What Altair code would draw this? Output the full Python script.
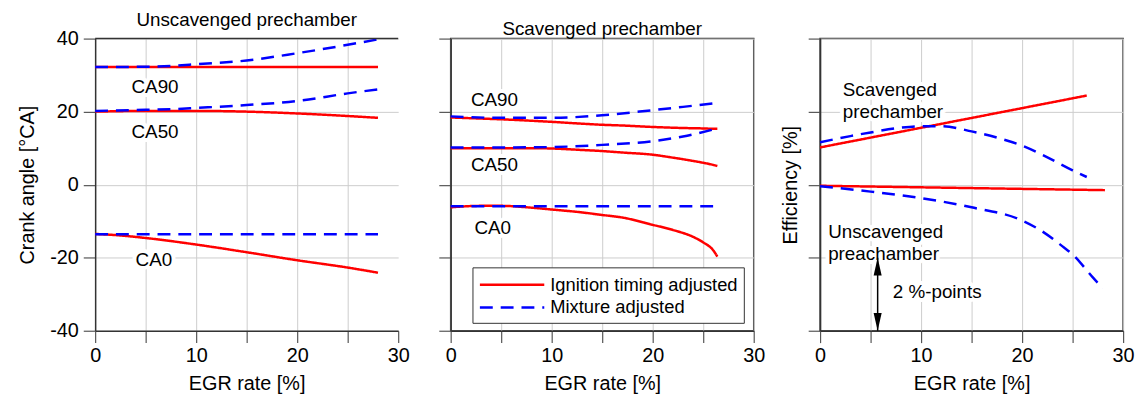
import altair as alt
import pandas as pd

FONT = "Liberation Sans"
IGN = "Ignition timing adjusted"
MIX = "Mixture adjusted"
METHODS = [IGN, MIX]
COLORS = ["#ff0000", "#0000ff"]
DASHES = [[1, 0], [13, 8]]

X_TICKS = [0, 5, 10, 15, 20, 25, 30]
CA_TICKS = [-40, -30, -20, -10, 0, 10, 20, 30, 40]
EFF_TICKS = [-4, -3, -2, -1, 0, 1, 2, 3, 4]
X_DOMAIN = [0, 30]
CA_DOMAIN = [-40, 40]
EFF_DOMAIN = [-4, 4]

# ---- Panel 1: Unscavenged prechamber (crank angle, deg CA)
U_X_IGN = [0, 2, 5, 10, 15, 20, 25, 28]
U_CA90_IGN = [32.2, 32.2, 32.2, 32.2, 32.2, 32.2, 32.2, 32.2]
U_CA50_IGN = [20.0, 20.1, 20.2, 20.2, 20.0, 19.5, 18.8, 18.3]
U_CA0_IGN = [-13.5, -13.8, -14.6, -16.4, -18.5, -20.7, -22.7, -24.1]
U_X_MIX = [0, 5, 8, 10, 15, 20, 25, 28]
U_CA90_MIX = [32.2, 32.3, 32.6, 33.0, 34.0, 36.0, 38.3, 39.8]
U_CA50_MIX = [20.2, 20.5, 20.7, 21.0, 21.8, 22.9, 25.0, 26.1]
U_CA0_MIX = [-13.6, -13.6, -13.6, -13.6, -13.6, -13.6, -13.6, -13.6]

# ---- Panel 2: Scavenged prechamber (crank angle, deg CA)
S_X_IGN = [0, 3, 5, 8, 10, 13, 15, 17, 20, 22, 24, 25, 26, 26.4]
S_CA90_IGN = [18.4, 18.1, 17.9, 17.5, 17.2, 16.7, 16.4, 16.2, 15.8, 15.6, 15.45, 15.4, 15.3, 15.3]
S_CA50_IGN = [10.0, 10.0, 10.0, 10.0, 9.9, 9.5, 9.2, 8.8, 8.2, 7.4, 6.5, 6.0, 5.4, 5.1]
S_CA0_IGN = [-6.2, -5.8, -5.8, -6.3, -6.8, -7.6, -8.3, -9.0, -11.0, -12.4, -14.3, -15.8, -18.0, -19.7]
S_X_MIX = [0, 5, 10, 15, 20, 23, 26.4]
S_CA90_MIX = [18.7, 18.3, 18.3, 19.0, 20.4, 21.3, 22.4]
S_CA50_MIX = [10.2, 10.2, 10.3, 10.9, 11.9, 13.2, 15.4]
S_CA0_MIX = [-5.9, -5.9, -5.9, -5.9, -5.9, -5.9, -5.9]

# ---- Panel 3: Efficiency (relative, %-points)
E_SCAV_X_IGN = [0, 26.4]
E_SCAV_IGN = [1.02, 2.44]
E_UNSC_X_IGN = [0, 28.2]
E_UNSC_IGN = [-0.03, -0.15]
E_SCAV_X_MIX = [0, 3, 5, 8, 10, 12, 15, 18, 20, 22, 25, 26.4]
E_SCAV_MIX = [1.16, 1.33, 1.43, 1.56, 1.60, 1.60, 1.46, 1.25, 1.07, 0.82, 0.39, 0.21]
E_UNSC_X_MIX = [0, 5, 10, 15, 20, 22, 24, 25, 27, 28]
E_UNSC_MIX = [-0.04, -0.19, -0.37, -0.62, -0.98, -1.28, -1.69, -1.91, -2.54, -2.84]

# ---- Annotations
P1_LABELS = ["CA90", "CA50", "CA0"]
P1_LABEL_X = [3.6, 3.6, 4.0]
P1_LABEL_Y = [26.7, 14.5, -20.7]
P2_LABELS = ["CA90", "CA50", "CA0"]
P2_LABEL_X = [2.0, 2.0, 2.35]
P2_LABEL_Y = [23.2, 5.3, -11.8]
P3_LABELS = ["Scavenged\nprechamber", "Unscavenged\npreachamber", "2 %-points"]
P3_LABEL_X = [2.25, 0.8, 7.2]
P3_LABEL_Y = [2.59, -1.30, -2.93]
ARROW_X = [5.7]
ARROW_TOP = [-2]
ARROW_BOTTOM = [-4]

TITLES = ["Unscavenged prechamber", "Scavenged prechamber", " "]


def make_df(entries):
    rows = []
    for curve, method, xs, ys in entries:
        for x, y in zip(xs, ys):
            rows.append({"curve": curve, "method": method, "x": x, "y": y})
    return pd.DataFrame(rows)


df1 = make_df([
    ("CA90i", IGN, U_X_IGN, U_CA90_IGN), ("CA50i", IGN, U_X_IGN, U_CA50_IGN), ("CA0i", IGN, U_X_IGN, U_CA0_IGN),
    ("CA90m", MIX, U_X_MIX, U_CA90_MIX), ("CA50m", MIX, U_X_MIX, U_CA50_MIX), ("CA0m", MIX, U_X_MIX, U_CA0_MIX),
])
df2 = make_df([
    ("CA90i", IGN, S_X_IGN, S_CA90_IGN), ("CA50i", IGN, S_X_IGN, S_CA50_IGN), ("CA0i", IGN, S_X_IGN, S_CA0_IGN),
    ("CA90m", MIX, S_X_MIX, S_CA90_MIX), ("CA50m", MIX, S_X_MIX, S_CA50_MIX), ("CA0m", MIX, S_X_MIX, S_CA0_MIX),
])
df3 = make_df([
    ("Si", IGN, E_SCAV_X_IGN, E_SCAV_IGN), ("Ui", IGN, E_UNSC_X_IGN, E_UNSC_IGN),
    ("Sm", MIX, E_SCAV_X_MIX, E_SCAV_MIX), ("Um", MIX, E_UNSC_X_MIX, E_UNSC_MIX),
])

GRID = "#cccccc"


def x_axis(hide_last_grid=False):
    gc = {"condition": {"test": "datum.value == 30", "value": "transparent"}, "value": GRID} if hide_last_grid else GRID
    return alt.Axis(values=X_TICKS, labelExpr="datum.value % 10 == 0 ? '' + datum.value : ''",
                    title="EGR rate [%]", grid=True, gridColor=gc, labelOverlap=False,
                    labelFlush=False, labelPadding=3, titlePadding=8)


def legend():
    return alt.Legend(orient="none", legendX=22, legendY=231, title=None, fillColor="white",
                      strokeColor="#333333", padding=6, symbolType="M-3.25,0H3.25", symbolSize=400,
                      symbolOffset=22.5, symbolStrokeWidth=2.5, labelFontSize=18.5, labelFont=FONT,
                      rowPadding=2, labelOffset=27, labelLimit=400, cornerRadius=0)


def panel(df, ydomain, yaxis, xaxis, show_legend, labels):
    leg = legend() if show_legend else None
    enc = dict(
        x=alt.X("x:Q", scale=alt.Scale(domain=X_DOMAIN, nice=False, zero=False), axis=xaxis),
        y=alt.Y("y:Q", scale=alt.Scale(domain=ydomain, nice=False, zero=False), axis=yaxis),
        color=alt.Color("method:N", scale=alt.Scale(domain=METHODS, range=COLORS), legend=leg),
        strokeDash=alt.StrokeDash("method:N", scale=alt.Scale(domain=METHODS, range=DASHES), legend=leg),
        detail="curve:N",
    )
    base = alt.Chart(df).mark_line(strokeWidth=2.5, interpolate="monotone")
    red = base.encode(**enc).transform_filter(alt.datum.method == IGN)
    blue = base.encode(**enc).transform_filter(alt.datum.method == MIX)
    ldf = pd.DataFrame({"x": labels[1], "y": labels[2], "t": labels[0]})
    halo = alt.Chart(ldf).mark_text(align="left", baseline="middle", fontSize=19, font=FONT,
                                    stroke="white", strokeWidth=8, strokeJoin="round", fill="white",
                                    lineBreak="\n", lineHeight=22).encode(x="x:Q", y="y:Q", text="t:N")
    txt = alt.Chart(ldf).mark_text(align="left", baseline="middle", fontSize=19, font=FONT,
                                   color="black", lineBreak="\n", lineHeight=22).encode(x="x:Q", y="y:Q", text="t:N")
    return [red, blue, halo, txt]


def title(t):
    return alt.TitleParams(t, fontSize=19, font=FONT, fontWeight="normal", offset=-1)


# Panel 1
p1_layers = panel(df1, CA_DOMAIN,
                  alt.Axis(values=CA_TICKS, labelExpr="datum.value % 20 == 0 ? '' + datum.value : ''",
                           title="Crank angle [°CA]", labelPadding=5, titlePadding=12,
                           labelOverlap=False, labelFlush=False),
                  x_axis(hide_last_grid=True), False, (P1_LABELS, P1_LABEL_X, P1_LABEL_Y))
top_rule = alt.Chart(pd.DataFrame({"k": [0]})).mark_rule(color="#333333", strokeWidth=1.5).encode(
    x=alt.datum(X_DOMAIN[0]), x2=alt.datum(X_DOMAIN[1]), y=alt.datum(CA_DOMAIN[1]))
p1 = alt.layer(*p1_layers, top_rule).properties(
    width=306, height=295, title=title(TITLES[0]),
    view=alt.ViewBackground(stroke="transparent"))

# Panel 2
p2_layers = panel(df2, CA_DOMAIN,
                  alt.Axis(values=CA_TICKS, labels=False, title="Crank angle [°CA]", titleOpacity=0,
                           titleFontSize=10, titlePadding=3),
                  x_axis(), True, (P2_LABELS, P2_LABEL_X, P2_LABEL_Y))
p2 = alt.layer(*p2_layers).properties(width=306, height=295, title=title(TITLES[1]))

# Panel 3
p3_layers = panel(df3, EFF_DOMAIN,
                  alt.Axis(values=EFF_TICKS, labels=False, title="Efficiency [%]", titlePadding=7),
                  x_axis(), False, (P3_LABELS, P3_LABEL_X, P3_LABEL_Y))
adf = pd.DataFrame({"x": ARROW_X, "y": ARROW_TOP, "y2": ARROW_BOTTOM})
arrow = alt.Chart(adf).mark_rule(color="black", strokeWidth=1.5).encode(x="x:Q", y="y:Q", y2="y2:Q")
head_up = alt.Chart(adf).mark_point(shape="M0,-1L0.45,1L-0.45,1Z", filled=True, color="black",
                                    size=324, yOffset=9, opacity=1).encode(x="x:Q", y="y:Q")
head_dn = alt.Chart(adf).mark_point(shape="M0,1L0.45,-1L-0.45,-1Z", filled=True, color="black",
                                    size=324, yOffset=-9, opacity=1).encode(x="x:Q", y=alt.Y("y2:Q"))
p3 = alt.layer(*p3_layers, arrow, head_up, head_dn).properties(
    width=306, height=295, title=title(TITLES[2]))

chart = alt.hconcat(p1, p2, p3, spacing=14).resolve_scale(
    color="independent", strokeDash="independent").resolve_legend(
    color="independent", strokeDash="independent").configure(
    font=FONT, padding={"left": 9, "top": 0, "right": 0, "bottom": 0}).configure_axis(
    labelFont=FONT, titleFont=FONT, labelFontSize=20, titleFontSize=20, titleFontWeight="normal",
    domainColor="#333333", domainWidth=1.5, tickColor="#555555", tickWidth=1.2, tickSize=12,
    gridColor=GRID, gridWidth=1, labelColor="black", titleColor="black").configure_view(
    stroke="#333333", strokeWidth=1.5)

chart.save("out.html", embed_options={"renderer": "svg", "actions": False})
